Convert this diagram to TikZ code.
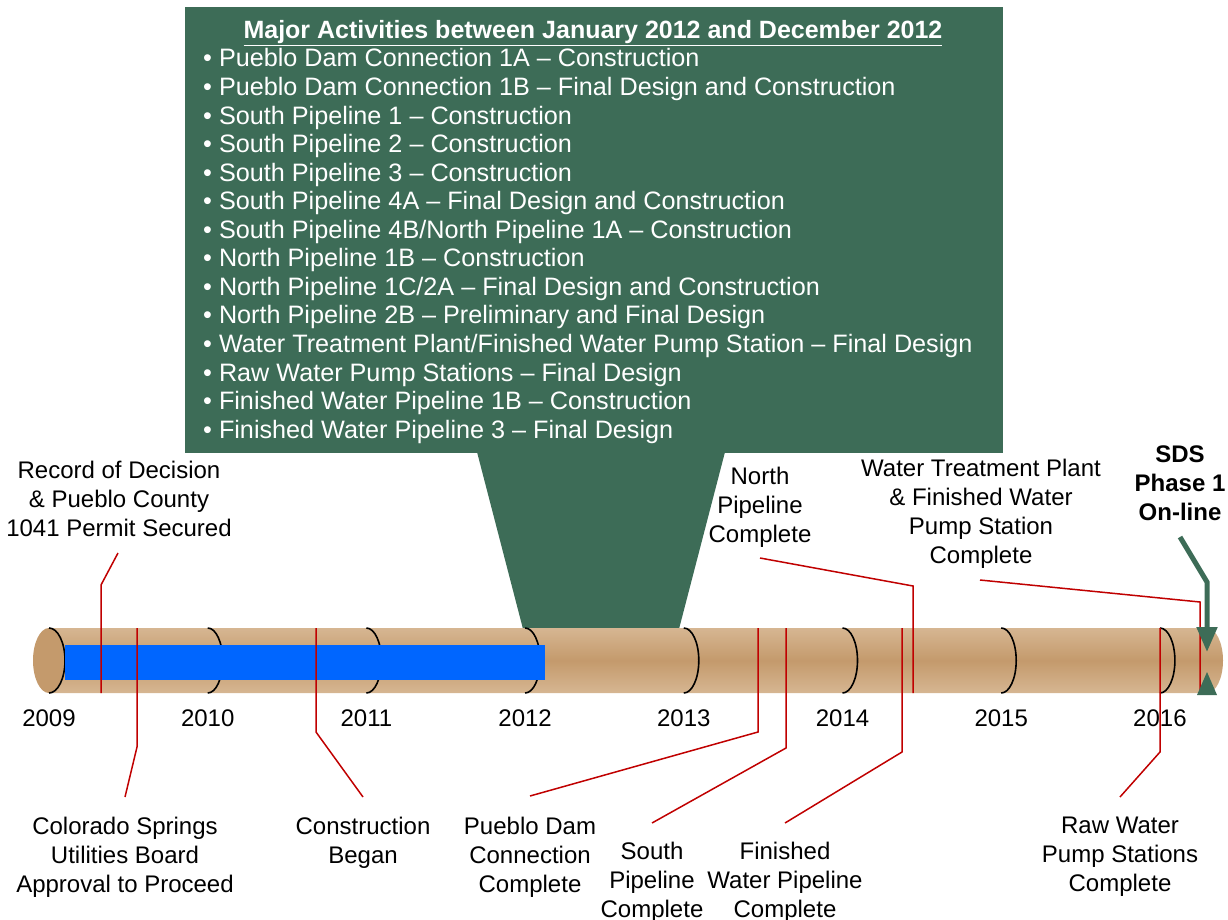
\documentclass[tikz,border=0pt]{standalone}
\usepackage{fontspec}
\setmainfont{Liberation Sans}
\usetikzlibrary{arrows.meta}
\definecolor{boxgreen}{RGB}{61,108,87}
\definecolor{tanL}{RGB}{214,182,146}
\definecolor{tanD}{RGB}{196,154,108}
\definecolor{pipeblue}{RGB}{0,102,255}
\definecolor{leadred}{RGB}{192,0,0}
\newcommand{\labfont}{\fontsize{24}{29}\selectfont}
\newcommand{\boxfont}{\fontsize{25.2}{28.5}\selectfont}
\newcommand{\titlefont}{\fontsize{25}{28.5}\selectfont\bfseries}
\tikzset{
  lab/.style={anchor=north, align=center, inner sep=0pt, font=\labfont},
  yearlab/.style={anchor=base, inner sep=0pt, font=\labfont},
  boxline/.style={anchor=base west, inner sep=0pt, text=white, font=\boxfont},
  leadline/.style={draw=leadred, line width=1.5pt},
  yeararc/.style={draw=black, line width=1.6pt},
  greenarrow/.style={draw=boxgreen, line width=5pt, -{Triangle[length=25pt,width=20pt]}},
}
\begin{document}
\begin{tikzpicture}[x=1pt,y=-1pt]
\useasboundingbox (0,0) rectangle (1228,920);
% callout box and wedge
\fill[boxgreen] (185,7) rectangle (1003,453);
\fill[boxgreen] (477,452) -- (725,452) -- (679,629) -- (523,629) -- cycle;
\node[anchor=base, inner sep=0pt, text=white, font=\titlefont] (title) at (593,39) {\underline{Major Activities between January 2012 and December 2012}};
\foreach \t [count=\i] in {
  {Pueblo Dam Connection 1A – Construction},
  {Pueblo Dam Connection 1B – Final Design and Construction},
  {South Pipeline 1 – Construction},
  {South Pipeline 2 – Construction},
  {South Pipeline 3 – Construction},
  {South Pipeline 4A – Final Design and Construction},
  {South Pipeline 4B/North Pipeline 1A – Construction},
  {North Pipeline 1B – Construction},
  {North Pipeline 1C/2A – Final Design and Construction},
  {North Pipeline 2B – Preliminary and Final Design},
  {Water Treatment Plant/Finished Water Pump Station – Final Design},
  {Raw Water Pump Stations – Final Design},
  {Finished Water Pipeline 1B – Construction},
  {Finished Water Pipeline 3 – Final Design}}
  \node[boxline] (act\i) at (203,{67+28.55*(\i-1)}) {• \t};
% pipe body
\shade[top color=tanL, bottom color=tanL, middle color=tanD]
  (49,628) -- (1207,628) arc[start angle=90, end angle=-90, x radius=16pt, y radius=32.5pt] -- (49,693) -- cycle;
% left end cap
\fill[tanD] (49,660.5) ellipse [x radius=16pt, y radius=32.5pt];
\draw[yeararc] (49,628) arc[start angle=90, end angle=-90, x radius=16pt, y radius=32.5pt];
% year arcs
\foreach \k in {1,...,7}
  \draw[yeararc] ({49+158.7*\k},628) arc[start angle=90, end angle=-90, x radius=15pt, y radius=32.5pt];
% blue progress bar
\fill[pipeblue] (65,645) rectangle (545,680);
% year labels
\foreach \yr [count=\k from 0] in {2009,2010,2011,2012,2013,2014,2015,2016}
  \node[yearlab] (y\yr) at ({49+158.7*\k},726) {\yr};
% milestone labels
\node[lab] (rec) at (119,461) {Record of Decision\\\& Pueblo County\\1041 Permit Secured};
\node[lab] (north) at (760,467) {North\\Pipeline\\Complete};
\node[lab] (wtp) at (981,459) {Water Treatment Plant\\\& Finished Water\\Pump Station\\Complete};
\node[lab, font=\labfont\bfseries] (sds) at (1180,446) {SDS\\Phase 1\\On-line};
\node[lab] (col) at (125,817) {Colorado Springs\\Utilities Board\\Approval to Proceed};
\node[lab] (con) at (363,817) {Construction\\Began};
\node[lab] (pdc) at (530,817) {Pueblo Dam\\Connection\\Complete};
\node[lab] (spc) at (652,842) {South\\Pipeline\\Complete};
\node[lab] (fwp) at (785,842) {Finished\\Water Pipeline\\Complete};
\node[lab] (raw) at (1120,817) {Raw Water\\Pump Stations\\Complete};
% leader coordinates
\coordinate (recP) at (101,693); \coordinate (recB) at (101,585); \coordinate (recT) at (118,553);
\coordinate (colP) at (137,628); \coordinate (colB) at (137,747); \coordinate (colT) at (125,797);
\coordinate (conP) at (316,628); \coordinate (conB) at (316,732); \coordinate (conT) at (363,797);
\coordinate (pdcP) at (758,628); \coordinate (pdcB) at (758,732); \coordinate (pdcT) at (530,796);
\coordinate (spcP) at (786,628); \coordinate (spcB) at (786,748); \coordinate (spcT) at (652,823);
\coordinate (fwpP) at (902,628); \coordinate (fwpB) at (902,752); \coordinate (fwpT) at (785,823);
\coordinate (norP) at (913,693); \coordinate (norB) at (913,586); \coordinate (norT) at (760,558);
\coordinate (wtpP) at (1200,693); \coordinate (wtpB) at (1200,602); \coordinate (wtpT) at (980,580);
\coordinate (rawP) at (1160,628); \coordinate (rawB) at (1160,752); \coordinate (rawT) at (1120,797);
\foreach \m in {rec,col,con,pdc,spc,fwp,nor,wtp,raw}
  \draw[leadline] (\m P) -- (\m B) -- (\m T);
% SDS on-line arrows
\coordinate (sdsA) at (1180,537); \coordinate (sdsB) at (1207,582); \coordinate (sdsC) at (1207,652);
\coordinate (upA) at (1207,695); \coordinate (upB) at (1207,672);
\draw[greenarrow] (sdsA) -- (sdsB) -- (sdsC);
\fill[boxgreen] (1197,695) -- (1217,695) -- (upB) -- cycle;
\end{tikzpicture}
\end{document}
